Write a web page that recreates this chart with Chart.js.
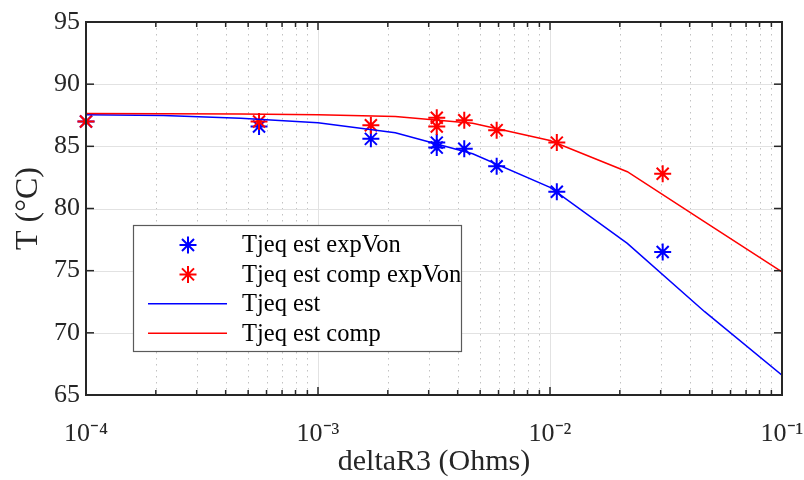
<!DOCTYPE html>
<html><head><meta charset="utf-8">
<script src="https://cdn.jsdelivr.net/npm/chart.js@4.4.0/dist/chart.umd.min.js"></script>
<style>html,body{margin:0;padding:0;background:#fff}#wrap{width:804px;height:480px}</style>
</head><body><div id="wrap"><canvas id="c" width="804" height="480"></canvas></div>
<script>
// ---- data ----
const expX = [1e-4, 5.57e-4, 1.69e-3, 3.25e-3, 3.25e-3, 4.27e-3, 5.89e-3, 1.07e-2, 3.06e-2];
const tjeqExpVon = [87.0, 86.6, 85.6, 85.3, 84.9, 84.8, 83.4, 81.35, 76.5];
const tjeqCompExpVon = [87.0, 87.0, 86.7, 87.3, 86.6, 87.1, 86.3, 85.3, 82.8];
const estX = [1e-4, 2.154e-4, 4.642e-4, 1e-3, 2.154e-3, 4.642e-3, 1e-2, 2.154e-2, 4.642e-2, 1e-1];
const tjeqEst = [87.55, 87.47, 87.25, 86.9, 86.1, 84.4, 81.7, 77.2, 71.7, 66.6];
const tjeqEstComp = [87.65, 87.63, 87.6, 87.55, 87.4, 86.86, 85.47, 82.96, 78.93, 74.9];
const seriesNames = ['Tjeq est expVon', 'Tjeq est comp expVon', 'Tjeq est', 'Tjeq est comp'];
const xTickValues = [1e-4, 1e-3, 1e-2, 1e-1];
const xTickLabels = ['10⁻⁴', '10⁻³', '10⁻²', '10⁻¹'];
const yTickValues = [65, 70, 75, 80, 85, 90, 95];
const xTitle = 'deltaR3 (Ohms)';
const yTitle = 'T (°C)';

const toXY = (xs, ys) => xs.map((v, i) => ({x: v, y: ys[i]}));
const FONT = "'Liberation Serif', 'Times New Roman', serif";
const BLUE = '#0000ff', RED = '#ff0000', INK = '#262626';

const framePlugin = {
  id: 'frame',
  beforeDatasetsDraw(chart) {
    const {ctx, chartArea: a, scales: {x, y}} = chart;
    ctx.save();
    ctx.lineWidth = 1;
    // minor dotted x grid
    ctx.strokeStyle = '#c2c2c2';
    ctx.setLineDash([1.5, 4.5]);
    for (let i = 0; i < xTickValues.length - 1; i++) {
      for (let k = 2; k <= 9; k++) {
        const px = Math.round(x.getPixelForValue(k * xTickValues[i])) + 0.5;
        ctx.beginPath(); ctx.moveTo(px, a.top); ctx.lineTo(px, a.bottom); ctx.stroke();
      }
    }
    ctx.setLineDash([]);
    ctx.strokeStyle = '#e2e2e2';
    xTickValues.slice(1, -1).forEach(v => {
      const px = Math.round(x.getPixelForValue(v)) + 0.5;
      ctx.beginPath(); ctx.moveTo(px, a.top); ctx.lineTo(px, a.bottom); ctx.stroke();
    });
    yTickValues.slice(1, -1).forEach(v => {
      const py = Math.round(y.getPixelForValue(v)) + 0.5;
      ctx.beginPath(); ctx.moveTo(a.left, py); ctx.lineTo(a.right, py); ctx.stroke();
    });
    ctx.restore();
  },
  afterDatasetsDraw(chart) {
    const {ctx, chartArea: a, scales: {x, y}} = chart;
    ctx.save();
    ctx.strokeStyle = INK;
    ctx.lineWidth = 1.5;
    const seg = (x1, y1, x2, y2) => { ctx.beginPath(); ctx.moveTo(x1, y1); ctx.lineTo(x2, y2); ctx.stroke(); };
    const MAJ = 8, MIN = 5;
    xTickValues.forEach(v => {
      const px = x.getPixelForValue(v);
      seg(px, a.bottom, px, a.bottom - MAJ); seg(px, a.top, px, a.top + MAJ);
    });
    for (let i = 0; i < xTickValues.length - 1; i++) {
      for (let k = 2; k <= 9; k++) {
        const px = x.getPixelForValue(k * xTickValues[i]);
        seg(px, a.bottom, px, a.bottom - MIN); seg(px, a.top, px, a.top + MIN);
      }
    }
    yTickValues.forEach(v => {
      const py = y.getPixelForValue(v);
      seg(a.left, py, a.left + MAJ, py); seg(a.right, py, a.right - MAJ, py);
    });
    ctx.lineWidth = 2;
    ctx.strokeRect(a.left, a.top, a.right - a.left, a.bottom - a.top);
    ctx.restore();
  },
  afterDraw(chart) {
    const {ctx} = chart;
    const ds = chart.data.datasets;
    ctx.save();
    const bx = 133.5, by = 225.5, bw = 328, bh = 126;
    ctx.fillStyle = '#ffffff';
    ctx.fillRect(bx, by, bw, bh);
    ctx.strokeStyle = '#5a5a5a';
    ctx.lineWidth = 1.2;
    ctx.strokeRect(bx, by, bw, bh);
    ctx.font = '24.5px ' + FONT;
    ctx.textBaseline = 'middle';
    for (let i = 0; i < ds.length; i++) {
      const d = ds[i];
      const cy = 245 + i * 29.4;
      if (d.showLine) {
        ctx.strokeStyle = d.borderColor; ctx.lineWidth = d.borderWidth;
        ctx.beginPath(); ctx.moveTo(148, cy); ctx.lineTo(227, cy); ctx.stroke();
      } else {
        ctx.strokeStyle = d.pointBorderColor; ctx.lineWidth = d.pointBorderWidth;
        ctx.beginPath();
        const r = d.pointRadius;
        ctx.moveTo(188, cy - r); ctx.lineTo(188, cy + r);
        ctx.moveTo(188 - r, cy); ctx.lineTo(188 + r, cy);
        const q = r * Math.SQRT1_2;
        ctx.moveTo(188 - q, cy - q); ctx.lineTo(188 + q, cy + q);
        ctx.moveTo(188 - q, cy + q); ctx.lineTo(188 + q, cy - q);
        ctx.stroke();
      }
      ctx.fillStyle = '#000';
      ctx.fillText(d.label, 242, cy + 1);
    }
    ctx.restore();
  }
};

new Chart(document.getElementById('c'), {
  type: 'scatter',
  data: {
    datasets: [
      {label: seriesNames[0], data: toXY(expX, tjeqExpVon), showLine: false, pointStyle: 'star',
       pointRadius: 8.5, pointBorderWidth: 2, pointBorderColor: BLUE, borderColor: BLUE, backgroundColor: BLUE, clip: false, order: 4},
      {label: seriesNames[1], data: toXY(expX, tjeqCompExpVon), showLine: false, pointStyle: 'star',
       pointRadius: 8.5, pointBorderWidth: 2, pointBorderColor: RED, borderColor: RED, backgroundColor: RED, clip: false, order: 3},
      {label: seriesNames[2], data: toXY(estX, tjeqEst), showLine: true, pointRadius: 0, borderColor: BLUE,
       borderWidth: 1.5, tension: 0, order: 2},
      {label: seriesNames[3], data: toXY(estX, tjeqEstComp), showLine: true, pointRadius: 0, borderColor: RED,
       borderWidth: 1.5, tension: 0, order: 1}
    ]
  },
  options: {
    responsive: false,
    animation: false,
    events: [],
    layout: {padding: {top: 22, right: 22, left: 0, bottom: 0}},
    plugins: {legend: {display: false}, tooltip: {enabled: false}},
    scales: {
      x: {
        type: 'logarithmic', min: 1e-4, max: 1e-1,
        afterBuildTicks: s => { s.ticks = xTickValues.map(v => ({value: v})); },
        afterFit: s => { s.height = 85; s.paddingLeft = 0; s.paddingRight = 0; },
        ticks: {
          callback: v => { const i = xTickValues.findIndex(t => Math.abs(t - v) / t < 1e-6); return i >= 0 ? xTickLabels[i] : ''; },
          color: INK, font: {family: FONT, size: 26}, padding: 24, maxRotation: 0, autoSkip: false
        },
        grid: {display: false, drawTicks: false},
        border: {display: false},
        title: {display: true, text: xTitle, color: INK, font: {family: FONT, size: 30}, padding: {top: 0, bottom: 0}}
      },
      y: {
        type: 'linear', min: 65, max: 95,
        afterBuildTicks: s => { s.ticks = yTickValues.map(v => ({value: v})); },
        afterFit: s => { s.width = 86; },
        ticks: {color: INK, font: {family: FONT, size: 26}, padding: 6},
        grid: {display: false, drawTicks: false},
        border: {display: false},
        title: {display: true, text: yTitle, color: INK, font: {family: FONT, size: 32}, padding: {top: 9, bottom: 0}}
      }
    }
  },
  plugins: [framePlugin]
});
</script>
</body></html>
